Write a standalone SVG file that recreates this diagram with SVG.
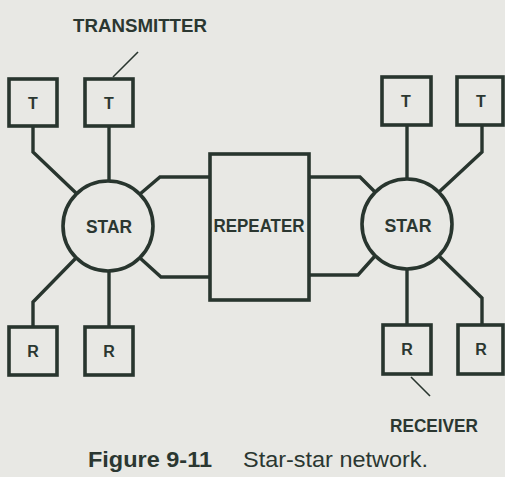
<svg xmlns="http://www.w3.org/2000/svg" width="505" height="477" viewBox="0 0 505 477">
<style>
.box{fill:none;stroke:#28352e;stroke-width:3.6}
.ln{fill:none;stroke:#28352e;stroke-width:3.4;stroke-linejoin:miter}
.ld{fill:none;stroke:#28352e;stroke-width:1.6}
.lb{font-family:"Liberation Sans",Arial,sans-serif;font-weight:bold;fill:#2b3731;text-anchor:middle}
.cap{font-family:"Liberation Sans",Arial,sans-serif;fill:#2b3731}
</style>
<rect width="505" height="477" fill="#e8e8e4"/>
<g id="connectors">
<path class="ln" d="M33,127 V152 L76,193"/>
<path class="ln" d="M109,126 V181"/>
<path class="ln" d="M140,194 L160,177 H210"/>
<path class="ln" d="M140,258 L161,277 H210"/>
<path class="ln" d="M76,258 L33,302 V327"/>
<path class="ln" d="M109,271 V327"/>
<path class="ln" d="M309,177 H360 L375,192"/>
<path class="ln" d="M309,275 H358 L375,256"/>
<path class="ln" d="M407,125 V179"/>
<path class="ln" d="M482,125 V152 L439,192"/>
<path class="ln" d="M407,269 V325"/>
<path class="ln" d="M439,256 L482,298 V325"/>
<path class="ld" d="M113,77 L138,52"/>
<path class="ld" d="M411,377 L430,396"/>
</g>
<g id="t1"><rect class="box" x="9" y="79" width="48" height="47"/><text class="lb" x="33" y="109" font-size="16">T</text></g>
<g id="t2"><rect class="box" x="85" y="79" width="48" height="47"/><text class="lb" x="109" y="109" font-size="16">T</text></g>
<g id="t3"><rect class="box" x="382" y="77" width="49" height="48"/><text class="lb" x="406" y="107" font-size="16">T</text></g>
<g id="t4"><rect class="box" x="457" y="77" width="46" height="48"/><text class="lb" x="481" y="107" font-size="16">T</text></g>
<g id="r1"><rect class="box" x="9" y="327" width="48" height="48"/><text class="lb" x="33" y="357" font-size="16">R</text></g>
<g id="r2"><rect class="box" x="85" y="327" width="48" height="48"/><text class="lb" x="109" y="357" font-size="16">R</text></g>
<g id="r3"><rect class="box" x="383" y="325" width="48" height="49"/><text class="lb" x="407" y="355" font-size="16">R</text></g>
<g id="r4"><rect class="box" x="458" y="325" width="45" height="49"/><text class="lb" x="481" y="355" font-size="16">R</text></g>
<g id="star-left"><circle class="box" cx="108" cy="226" r="45"/><text class="lb" x="109" y="233" font-size="18" textLength="46" lengthAdjust="spacingAndGlyphs">STAR</text></g>
<g id="repeater"><rect class="box" x="210" y="154" width="99" height="146"/><text class="lb" x="259" y="232" font-size="18" textLength="91" lengthAdjust="spacingAndGlyphs">REPEATER</text></g>
<g id="star-right"><circle class="box" cx="407" cy="224" r="45"/><text class="lb" x="408" y="232" font-size="18" textLength="47" lengthAdjust="spacingAndGlyphs">STAR</text></g>
<g id="label-transmitter"><text class="lb" x="140" y="32" font-size="18" textLength="134" lengthAdjust="spacingAndGlyphs">TRANSMITTER</text></g>
<g id="label-receiver"><text class="lb" x="434" y="432" font-size="18" textLength="88" lengthAdjust="spacingAndGlyphs">RECEIVER</text></g>
<g id="caption">
<text class="cap" x="88" y="467" font-size="22" font-weight="bold" textLength="124" lengthAdjust="spacingAndGlyphs">Figure 9-11</text>
<text class="cap" x="243" y="467" font-size="22" textLength="185" lengthAdjust="spacingAndGlyphs">Star-star network.</text>
</g>
</svg>
